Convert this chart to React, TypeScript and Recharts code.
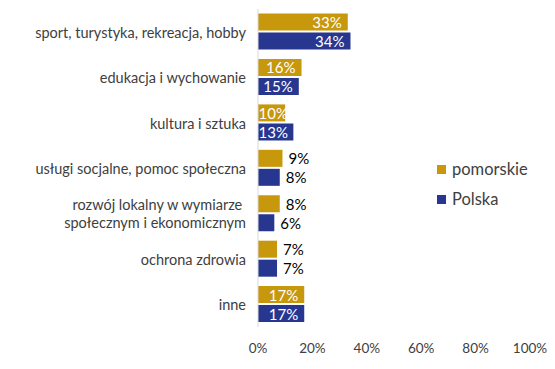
import { Bar, BarChart, LabelList, Legend, XAxis, YAxis } from "recharts";

const categories = [
  "sport, turystyka, rekreacja, hobby",
  "edukacja i wychowanie",
  "kultura i sztuka",
  "usługi socjalne, pomoc społeczna",
  "rozwój lokalny w wymiarze \nspołecznym i ekonomicznym",
  "ochrona zdrowia",
  "inne",
];
const pomorskie = [33, 16, 10, 9, 8, 7, 17];
const polska = [34, 15, 13, 8, 6, 7, 17];
const xTicks = [0, 20, 40, 60, 80, 100];

const GOLD = "#C7970C";
const BLUE = "#27368F";
const FONT = "Lato, 'Open Sans', sans-serif";

const data = categories.map((name, i) => ({ name, pomorskie: pomorskie[i], polska: polska[i] }));

function CategoryTick({ x, y, payload }: any) {
  const lines = String(payload.value).split("\n");
  const lh = 18;
  const y0 = y - ((lines.length - 1) * lh) / 2;
  return (
    <text x={x} y={y0} textAnchor="end" fill="#404040" fontSize={14.5} fontFamily={FONT} dominantBaseline="central">
      {lines.map((l, i) => (
        <tspan key={i} x={x} y={y0 + i * lh} style={{ whiteSpace: "pre" }}>
          {l}
        </tspan>
      ))}
    </text>
  );
}

function ValueLabel({ x, y, width, height, value }: any) {
  const cy = y + height / 2;
  if (value >= 10) {
    const tx = Math.max(x + width - 6, x + 30);
    return (
      <text x={tx} y={cy} textAnchor="end" fill="#fff" fontSize={15} fontFamily={FONT} dominantBaseline="central">
        {value}%
      </text>
    );
  }
  return (
    <text x={x + width + 6} y={cy} textAnchor="start" fill="#000" fontSize={15} fontFamily={FONT} dominantBaseline="central">
      {value}%
    </text>
  );
}

function LegendBox() {
  const items = [
    { label: "pomorskie", color: GOLD },
    { label: "Polska", color: BLUE },
  ];
  return (
    <div style={{ fontFamily: FONT, fontSize: 16.5, color: "#404040" }}>
      {items.map((it) => (
        <div key={it.label} style={{ display: "flex", alignItems: "center", height: 30 }}>
          <span style={{ width: 9, height: 9, background: it.color, marginRight: 6, display: "inline-block" }} />
          {it.label}
        </div>
      ))}
    </div>
  );
}

export default function App() {
  return (
    <div style={{ position: "absolute", left: 0, top: 0, width: 555, height: 369, background: "#fff" }}>
      <BarChart
        width={555}
        height={369}
        data={data}
        layout="vertical"
        margin={{ top: 9, right: 25, bottom: 10, left: 0 }}
        barCategoryGap="10%"
        barGap={2}
      >
        <XAxis
          type="number"
          domain={[0, 100]}
          ticks={xTicks}
          tickFormatter={(v) => `${v}%`}
          axisLine={false}
          tickLine={false}
          tickMargin={10}
          height={32}
          tick={{ fill: "#404040", fontSize: 13.5, fontFamily: FONT }}
        />
        <YAxis
          type="category"
          dataKey="name"
          width={258}
          axisLine={{ stroke: "#D9D9D9" }}
          tickLine={false}
          tickMargin={6}
          tick={<CategoryTick />}
          interval={0}
        />
        <Legend
          layout="horizontal"
          verticalAlign="middle"
          align="center"
          content={<LegendBox />}
          wrapperStyle={{ position: "absolute", left: 437, top: 154, width: 110 }}
        />
        <Bar dataKey="pomorskie" fill={GOLD} isAnimationActive={false}>
          <LabelList dataKey="pomorskie" content={<ValueLabel />} />
        </Bar>
        <Bar dataKey="polska" fill={BLUE} isAnimationActive={false}>
          <LabelList dataKey="polska" content={<ValueLabel />} />
        </Bar>
      </BarChart>
    </div>
  );
}
